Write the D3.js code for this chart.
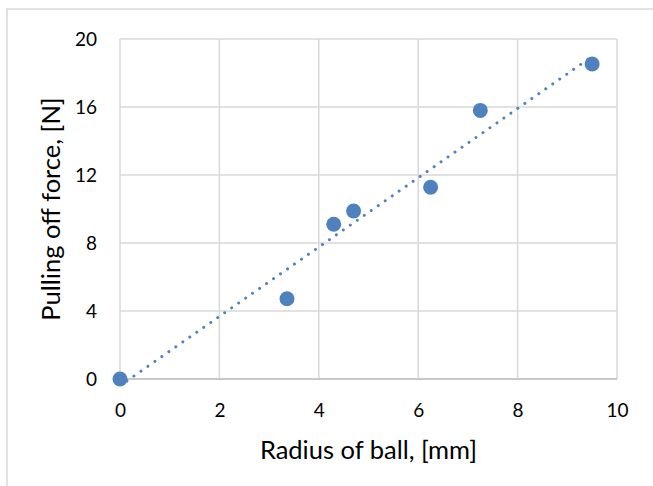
<!DOCTYPE html>
<html><head><meta charset="utf-8">
<script src="https://cdn.jsdelivr.net/npm/d3@7"></script>
<style>body{margin:0;background:#fff}svg{display:block}text{font-family:Lato,"Open Sans",sans-serif;fill:#000}</style>
</head><body><svg id="c" width="653" height="486"></svg>
<script>
const radius = [0, 3.36, 4.30, 4.70, 6.25, 7.25, 9.50];
const force  = [0, 4.72, 9.10, 9.88, 11.28, 15.8, 18.53];
const xTicks = [0, 2, 4, 6, 8, 10];
const yTicks = [0, 4, 8, 12, 16, 20];
const xTitle = "Radius of ball, [mm]";
const yTitle = "Pulling off force, [N]";

const svg = d3.select("#c");
const W = 653, H = 486;
const m = {l:120, r:36, t:39, b:107};
const x = d3.scaleLinear().domain([0,10]).range([m.l, W-m.r]);
const y = d3.scaleLinear().domain([0,20]).range([H-m.b, m.t]);

// chart frame
svg.append("rect").attr("x",7).attr("y",9).attr("width",660).attr("height",500)
  .attr("fill","none").attr("stroke","#d9d9d9").attr("stroke-width",1.5);

// gridlines
svg.append("g").selectAll("line").data(yTicks).join("line")
  .attr("x1",x(0)).attr("x2",x(10)).attr("y1",d=>y(d)).attr("y2",d=>y(d))
  .attr("stroke","#d9d9d9").attr("stroke-width",1.5);
svg.append("g").selectAll("line").data(xTicks).join("line")
  .attr("y1",y(0)).attr("y2",y(20)).attr("x1",d=>x(d)).attr("x2",d=>x(d))
  .attr("stroke","#d9d9d9").attr("stroke-width",1.5);
// x axis line
svg.append("line").attr("x1",x(0)).attr("x2",x(10)).attr("y1",y(0)).attr("y2",y(0))
  .attr("stroke","#bfbfbf").attr("stroke-width",1.5);

// tick labels via d3 axes
const xa = svg.append("g").attr("transform",`translate(0,${y(0)})`)
  .call(d3.axisBottom(x).tickValues(xTicks).tickSize(0).tickFormat(d3.format("d")));
const ya = svg.append("g").attr("transform",`translate(${m.l},0)`)
  .call(d3.axisLeft(y).tickValues(yTicks).tickSize(0).tickPadding(23).tickFormat(d3.format("d")));
[xa,ya].forEach(a=>{a.select(".domain").remove(); a.selectAll("text").attr("font-size",19).attr("font-family","Lato").attr("fill","#000");});
xa.selectAll("text").attr("y",31).attr("dy","0.35em");
ya.selectAll("text").attr("dy","0.33em");

// titles
svg.append("text").attr("x",(x(0)+x(10))/2).attr("y",459).attr("text-anchor","middle")
  .attr("font-size",25.5).text(xTitle);
svg.append("text").attr("transform",`translate(60,${(y(0)+y(20))/2}) rotate(-90)`)
  .attr("text-anchor","middle").attr("font-size",25.5).text(yTitle);

// linear trendline (least squares)
const n = radius.length;
const mx = d3.mean(radius), my = d3.mean(force);
let sxy=0,sxx=0;
for(let i=0;i<n;i++){sxy+=(radius[i]-mx)*(force[i]-my);sxx+=(radius[i]-mx)**2;}
const slope = sxy/sxx, icpt = my - slope*mx;
const x0 = d3.min(radius), x1 = d3.max(radius);
svg.append("line")
  .attr("x1",x(x0)).attr("y1",y(icpt+slope*x0))
  .attr("x2",x(x1)).attr("y2",y(icpt+slope*x1))
  .attr("stroke","#4f81bd").attr("stroke-width",3).attr("stroke-linecap","round")
  .attr("stroke-dasharray","0.01 8.5").attr("stroke-dashoffset",-8.5);

// points
svg.append("g").selectAll("circle").data(radius).join("circle")
  .attr("cx",d=>x(d)).attr("cy",(d,i)=>y(force[i])).attr("r",7.5)
  .attr("fill","#4f81bd");
</script></body></html>
